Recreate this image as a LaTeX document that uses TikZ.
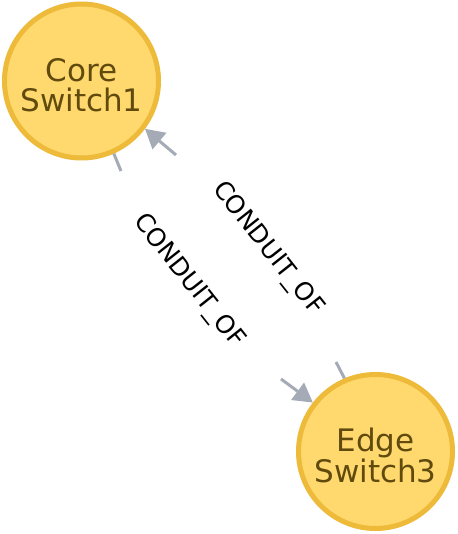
\documentclass[tikz,border=0pt]{standalone}
\usepackage{fontspec}
\setmainfont{DejaVu Sans}
\usetikzlibrary{arrows.meta}
\definecolor{nodefill}{HTML}{FFD86E}
\definecolor{nodeline}{HTML}{EDBA39}
\definecolor{nodetext}{HTML}{604A0E}
\definecolor{relline}{HTML}{A5ABB6}
\tikzset{
  switchnode/.style={circle, draw=nodeline, fill=nodefill, line width=5pt, minimum size=154pt, inner sep=0pt},
  caption/.style={text=nodetext, align=center, inner sep=0pt, font=\fontsize{31}{30}\selectfont},
  rel/.style={draw=relline, line width=3pt},
  relarrow/.style={rel, -{Triangle[length=19pt,width=21pt]}},
  rellabel/.style={text=black, inner sep=0pt, font=\fontsize{25}{28}\selectfont, rotate=-51.6}
}
\begin{document}
\begin{tikzpicture}[x=1pt,y=-1pt]
\useasboundingbox (0,0) rectangle (457,534);
\node[switchnode] (core) at (81.5,81) {};
\node[switchnode] (edge) at (375.5,451.5) {};
\node[caption] (coretext) at ([yshift=-4pt]core.center) {Core\\Switch1};
\node[caption] (edgetext) at ([yshift=-4pt]edge.center) {Edge\\Switch3};
% relationship core -> edge
\coordinate (a1) at (121,171);
\coordinate (a2) at (281,379);
\draw[rel] (core.-66.9) -- (a1);
\draw[relarrow] (a2) -- (edge.142.3);
\node[rellabel] (lab1) at (188.5,281.5) {CONDUIT\_OF};
% relationship edge -> core
\coordinate (b1) at (336,362);
\coordinate (b2) at (176,155);
\draw[rel] (edge.113.7) -- (b1);
\draw[relarrow] (b2) -- (core.-37.7);
\node[rellabel] (lab2) at (267.5,249) {CONDUIT\_OF};
\end{tikzpicture}
\end{document}
